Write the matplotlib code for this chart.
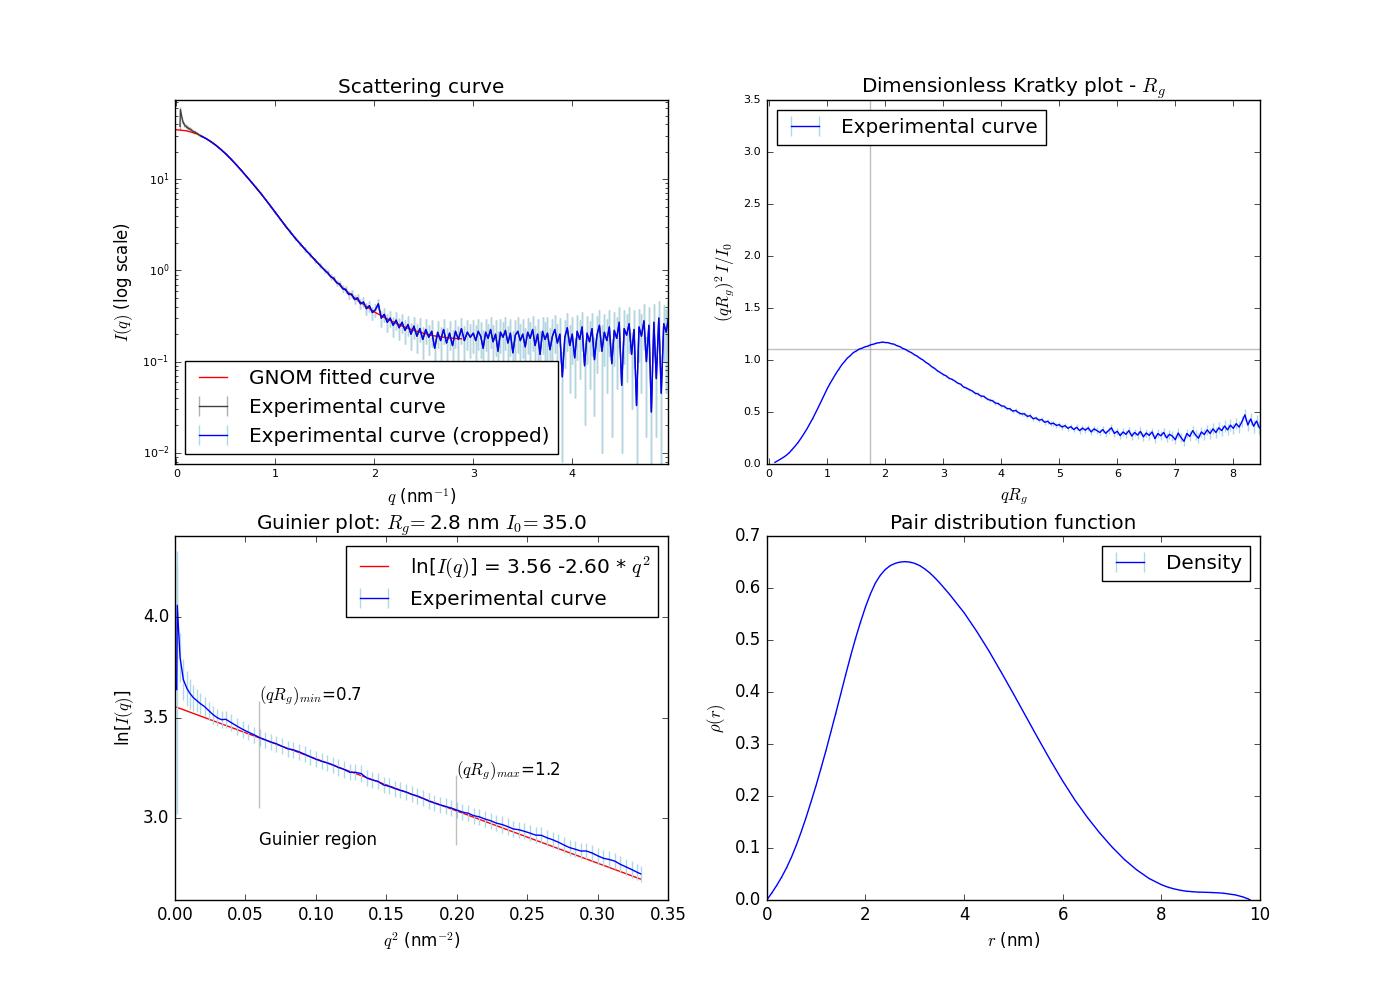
import matplotlib
matplotlib.use("Agg")
import matplotlib.pyplot as plt

plt.style.use("classic")
plt.rcParams["figure.facecolor"] = "white"
plt.rcParams["savefig.facecolor"] = "white"

# ---------------- Scattering curve (top-left) ----------------
# full experimental curve, low-q part (before the cropped range)
exp_low_q = [0.035, 0.040, 0.060, 0.077, 0.092, 0.103, 0.114, 0.124, 0.134, 0.145,
             0.155, 0.164, 0.173, 0.182, 0.190, 0.200, 0.210, 0.219, 0.228, 0.237, 0.245]
exp_low_I = [38.1, 58.0, 44.7, 40.0, 38.3, 37.3, 36.6, 36.0, 35.5, 35.0,
             34.3, 33.6, 33.1, 32.8, 32.9, 32.3, 31.8, 31.2, 30.8, 30.4, 30.0]
exp_low_err = [3.0, 4.0, 3.0, 2.5, 2.2, 2.0, 1.8, 1.7, 1.6, 1.5,
               1.4, 1.3, 1.2, 1.1, 1.0, 0.9, 0.8, 0.7, 0.65, 0.6, 0.55]

# cropped experimental curve
crop_q = [0.25, 0.30, 0.35, 0.40, 0.45, 0.50, 0.55, 0.60, 0.65, 0.70, 0.75, 0.80, 0.85,
          0.90, 0.95, 1.00, 1.05, 1.10, 1.15, 1.20, 1.25, 1.30, 1.35, 1.40, 1.45, 1.50,
          1.53, 1.56, 1.59, 1.62, 1.65, 1.68, 1.71, 1.74, 1.77, 1.80, 1.83, 1.86, 1.89,
          1.92, 1.95, 1.98, 2.01, 2.04, 2.07, 2.10, 2.13, 2.16, 2.19, 2.22, 2.25, 2.28,
          2.31, 2.34, 2.37, 2.40, 2.43, 2.46, 2.49, 2.52, 2.55, 2.58, 2.61, 2.64, 2.67,
          2.70, 2.73, 2.76, 2.79, 2.82, 2.85, 2.88, 2.91, 2.94, 2.97,
          3.000, 3.025, 3.050, 3.075, 3.100, 3.125, 3.150, 3.175, 3.200, 3.225, 3.250,
          3.275, 3.300, 3.325, 3.350, 3.375, 3.400, 3.425, 3.450, 3.475, 3.500, 3.525,
          3.550, 3.575, 3.600, 3.625, 3.650, 3.675, 3.700, 3.725, 3.750, 3.775, 3.800,
          3.825, 3.850, 3.875, 3.900, 3.925, 3.950, 3.975, 4.000, 4.025, 4.050, 4.075,
          4.100, 4.125, 4.150, 4.175, 4.200, 4.225, 4.250, 4.275, 4.300, 4.325, 4.350,
          4.375, 4.400, 4.425, 4.450, 4.475, 4.500, 4.525, 4.550, 4.575, 4.600, 4.625,
          4.650, 4.675, 4.700, 4.725, 4.750, 4.775, 4.800, 4.825, 4.850, 4.875, 4.900,
          4.925, 4.950, 4.970]
crop_I = [29.8, 27.9, 25.8, 23.5, 21.2, 18.9, 16.7, 14.6, 12.7, 11.0, 9.5, 8.2, 7.05,
          6.0, 5.1, 4.32, 3.65, 3.09, 2.64, 2.26, 1.96, 1.70, 1.49, 1.30, 1.14, 1.00,
          0.94, 0.85, 0.82, 0.73, 0.71, 0.63, 0.62, 0.545, 0.55, 0.48, 0.50, 0.43, 0.45,
          0.38, 0.41, 0.345, 0.37, 0.43, 0.30, 0.33, 0.27, 0.30, 0.25, 0.285, 0.235, 0.27,
          0.22, 0.255, 0.20, 0.245, 0.19, 0.23, 0.175, 0.225, 0.185, 0.215, 0.14, 0.21, 0.17,
          0.225, 0.16, 0.205, 0.15, 0.215, 0.175, 0.23, 0.17, 0.21, 0.185,
          0.205, 0.17, 0.215, 0.19, 0.14, 0.21, 0.18, 0.225, 0.165, 0.20, 0.13,
          0.21, 0.185, 0.22, 0.16, 0.205, 0.125, 0.195, 0.215, 0.17, 0.20, 0.145,
          0.21, 0.18, 0.225, 0.15, 0.20, 0.12, 0.215, 0.175, 0.205, 0.135, 0.19,
          0.225, 0.16, 0.20, 0.068, 0.185, 0.235, 0.15, 0.20, 0.11, 0.215, 0.175,
          0.24, 0.09, 0.205, 0.165, 0.23, 0.105, 0.195, 0.25, 0.13, 0.21, 0.17,
          0.24, 0.095, 0.22, 0.18, 0.27, 0.055, 0.23, 0.195, 0.26, 0.12, 0.225,
          0.033, 0.24, 0.19, 0.28, 0.10, 0.25, 0.028, 0.27, 0.065, 0.30, 0.045,
          0.26, 0.21, 0.29]
crop_err = [0.50, 0.45, 0.40, 0.36, 0.32, 0.29, 0.26, 0.23, 0.21, 0.19, 0.17, 0.16, 0.15,
            0.14, 0.13, 0.12, 0.115, 0.11, 0.105, 0.10, 0.095, 0.09, 0.085, 0.08, 0.075, 0.07,
            0.060, 0.058, 0.057, 0.056, 0.055, 0.055, 0.054, 0.054, 0.054, 0.054, 0.055, 0.055, 0.056,
            0.056, 0.057, 0.057, 0.058, 0.060, 0.060, 0.061, 0.061, 0.062, 0.062, 0.063, 0.063, 0.064,
            0.064, 0.065, 0.065, 0.066, 0.066, 0.067, 0.067, 0.068, 0.068, 0.069, 0.050, 0.070, 0.070,
            0.071, 0.071, 0.072, 0.072, 0.073, 0.073, 0.074, 0.074, 0.075, 0.075,
            0.080, 0.080, 0.080, 0.080, 0.080, 0.080, 0.080, 0.085, 0.085, 0.085, 0.085,
            0.085, 0.085, 0.085, 0.085, 0.090, 0.090, 0.090, 0.090, 0.090, 0.090, 0.090,
            0.090, 0.090, 0.095, 0.095, 0.095, 0.095, 0.095, 0.095, 0.100, 0.100, 0.100,
            0.100, 0.100, 0.100, 0.060, 0.100, 0.105, 0.105, 0.105, 0.070, 0.110, 0.110,
            0.110, 0.070, 0.110, 0.115, 0.115, 0.080, 0.120, 0.120, 0.120, 0.120, 0.125,
            0.125, 0.080, 0.130, 0.130, 0.130, 0.045, 0.135, 0.135, 0.135, 0.090, 0.140,
            0.030, 0.140, 0.145, 0.145, 0.085, 0.150, 0.028, 0.155, 0.050, 0.160, 0.040,
            0.160, 0.165, 0.170]

# GNOM fitted curve
gnom_q = [0.0, 0.1, 0.2, 0.3, 0.4, 0.5, 0.6, 0.7, 0.8, 0.9, 1.0, 1.1, 1.2, 1.3, 1.4,
          1.5, 1.6, 1.7, 1.8, 1.9, 2.0, 2.1, 2.2, 2.3, 2.4, 2.5, 2.6, 2.7, 2.8, 2.88]
gnom_I = [34.9, 34.0, 31.7, 27.9, 23.5, 18.9, 14.6, 11.0, 8.2, 6.0, 4.3, 3.09, 2.26, 1.70, 1.30,
          1.0, 0.776, 0.617, 0.50, 0.417, 0.351, 0.305, 0.269, 0.241, 0.220, 0.204, 0.192,
          0.185, 0.180, 0.178]

# ---------------- Dimensionless Kratky plot (top-right) ----------------
kratky_x = [0.10, 0.15, 0.20, 0.25, 0.30, 0.35, 0.40, 0.45, 0.50, 0.55, 0.60, 0.65, 0.70,
            0.75, 0.80, 0.85, 0.90, 0.95, 1.00, 1.05, 1.10, 1.15, 1.20, 1.25, 1.30, 1.35,
            1.40, 1.45, 1.50, 1.55, 1.60, 1.65, 1.70, 1.75, 1.80, 1.85, 1.90, 1.95, 2.00,
            2.05, 2.10, 2.15, 2.20, 2.25, 2.30, 2.35, 2.40, 2.45, 2.50, 2.55, 2.60, 2.65,
            2.70, 2.75, 2.80, 2.85, 2.90, 2.95,
            3.00, 3.05, 3.10, 3.15, 3.20, 3.25, 3.30, 3.35, 3.40, 3.45, 3.50, 3.55, 3.60,
            3.65, 3.70, 3.75, 3.80, 3.85, 3.90, 3.95, 4.00, 4.05, 4.10, 4.15, 4.20, 4.25,
            4.30, 4.35, 4.40, 4.45, 4.50, 4.55, 4.60, 4.65, 4.70, 4.75, 4.80, 4.85, 4.90,
            4.95, 5.00, 5.05, 5.10, 5.15, 5.20, 5.25, 5.30, 5.35, 5.40, 5.45, 5.50, 5.55,
            5.60, 5.65, 5.70, 5.75, 5.80, 5.85, 5.90, 5.95, 6.00, 6.05, 6.10, 6.15, 6.20,
            6.25, 6.30, 6.35, 6.40, 6.45, 6.50, 6.55, 6.60, 6.65, 6.70, 6.75, 6.80, 6.85,
            6.90, 6.95, 7.00, 7.05, 7.10, 7.15, 7.20, 7.25, 7.30, 7.35, 7.40, 7.45, 7.50,
            7.55, 7.60, 7.65, 7.70, 7.75, 7.80, 7.85, 7.90, 7.95, 8.00, 8.05, 8.10, 8.15,
            8.20, 8.25, 8.30, 8.35, 8.40, 8.45]
kratky_y = [0.013, 0.028, 0.045, 0.062, 0.082, 0.107, 0.138, 0.170, 0.205, 0.245, 0.288,
            0.333, 0.382, 0.433, 0.488, 0.545, 0.603, 0.662, 0.720, 0.772, 0.820, 0.866,
            0.908, 0.950, 0.983, 1.017, 1.040, 1.068, 1.084, 1.102, 1.111, 1.124, 1.131,
            1.144, 1.150, 1.160, 1.164, 1.170, 1.166, 1.164, 1.155, 1.150, 1.136, 1.127,
            1.110, 1.099, 1.082, 1.069, 1.049, 1.035, 1.014, 0.998, 0.975, 0.958, 0.934,
            0.917, 0.894, 0.877,
            0.858, 0.845, 0.822, 0.812, 0.795, 0.775, 0.765, 0.738, 0.728, 0.712, 0.700, 0.678,
            0.671, 0.650, 0.648, 0.625, 0.612, 0.605, 0.583, 0.578, 0.557, 0.552, 0.530, 0.528,
            0.505, 0.512, 0.490, 0.478, 0.480, 0.455, 0.462, 0.432, 0.440, 0.418, 0.425, 0.398,
            0.408, 0.382, 0.390, 0.368, 0.375, 0.352, 0.366, 0.340, 0.356, 0.328, 0.350, 0.318,
            0.342, 0.322, 0.345, 0.305, 0.335, 0.318, 0.300, 0.328, 0.292, 0.318, 0.345, 0.290,
            0.312, 0.270, 0.305, 0.282, 0.318, 0.265, 0.300, 0.275, 0.310, 0.258, 0.295, 0.272,
            0.305, 0.240, 0.290, 0.268, 0.300, 0.248, 0.282, 0.265, 0.230, 0.295, 0.250, 0.215,
            0.290, 0.262, 0.318, 0.275, 0.245, 0.305, 0.280, 0.325, 0.290, 0.335, 0.300, 0.345,
            0.318, 0.362, 0.325, 0.370, 0.340, 0.385, 0.352, 0.405, 0.470, 0.372, 0.430, 0.360,
            0.410, 0.345]
kratky_err = [0.001, 0.001, 0.001, 0.001, 0.001, 0.001, 0.002, 0.002, 0.002, 0.002, 0.002,
              0.002, 0.002, 0.003, 0.003, 0.003, 0.003, 0.003, 0.003, 0.003, 0.004, 0.004,
              0.004, 0.004, 0.004, 0.004, 0.004, 0.005, 0.005, 0.005, 0.005, 0.005, 0.005,
              0.005, 0.006, 0.006, 0.006, 0.006, 0.006, 0.006, 0.006, 0.007, 0.007, 0.007,
              0.007, 0.007, 0.007, 0.007, 0.008, 0.008, 0.008, 0.008, 0.008, 0.008, 0.009,
              0.009, 0.009, 0.009,
              0.010, 0.010, 0.011, 0.011, 0.011, 0.012, 0.012, 0.012, 0.013, 0.013, 0.013,
              0.014, 0.014, 0.014, 0.015, 0.015, 0.015, 0.016, 0.016, 0.016,
              0.017, 0.017, 0.018, 0.018, 0.018, 0.019, 0.019, 0.020, 0.020, 0.020, 0.021,
              0.021, 0.022, 0.022, 0.022, 0.023, 0.023, 0.024, 0.024, 0.025,
              0.025, 0.026, 0.026, 0.027, 0.027, 0.028, 0.028, 0.029, 0.029, 0.030, 0.030,
              0.031, 0.031, 0.032, 0.032, 0.033, 0.033, 0.034, 0.034, 0.035,
              0.035, 0.036, 0.036, 0.037, 0.037, 0.038, 0.038, 0.039, 0.039, 0.040, 0.040,
              0.041, 0.041, 0.042, 0.042, 0.043, 0.043, 0.044, 0.044, 0.045,
              0.045, 0.046, 0.046, 0.047, 0.047, 0.048, 0.048, 0.049, 0.049, 0.050, 0.050,
              0.051, 0.051, 0.052, 0.052, 0.053, 0.053, 0.054, 0.054, 0.055,
              0.055, 0.056, 0.056, 0.057, 0.058, 0.060, 0.060, 0.061, 0.062, 0.063]
kratky_peak_x = 1.73   # sqrt(3) guide line
kratky_peak_y = 1.10   # 3/e guide line

# ---------------- Guinier plot (bottom-left) ----------------
guinier_q2 = [0.0012, 0.0016, 0.0036, 0.0059, 0.0085, 0.0107, 0.013, 0.0155, 0.018, 0.021,
              0.024, 0.027, 0.030, 0.033, 0.036, 0.040, 0.044, 0.048, 0.052, 0.056, 0.060,
              0.064, 0.068, 0.072, 0.076, 0.080, 0.084, 0.088, 0.092, 0.096, 0.100, 0.104,
              0.108, 0.112, 0.116, 0.120, 0.124, 0.128, 0.132, 0.136, 0.140, 0.144, 0.148,
              0.152, 0.156, 0.160, 0.164, 0.168, 0.172, 0.176, 0.180, 0.184, 0.188, 0.192,
              0.196, 0.200, 0.204, 0.208, 0.212, 0.216, 0.220, 0.224, 0.228, 0.232, 0.236,
              0.240, 0.244, 0.248, 0.252, 0.256, 0.260, 0.264, 0.268, 0.272, 0.276, 0.280,
              0.284, 0.288, 0.292, 0.296, 0.300, 0.304, 0.308, 0.312, 0.316, 0.320, 0.324,
              0.328, 0.3305]
guinier_lnI = [3.64, 4.06, 3.80, 3.69, 3.645, 3.62, 3.60, 3.585, 3.57, 3.555,
               3.535, 3.515, 3.50, 3.49, 3.492, 3.475, 3.458, 3.442, 3.428, 3.415, 3.401,
               3.390, 3.379, 3.370, 3.357, 3.345, 3.340, 3.330, 3.318, 3.305, 3.293, 3.283,
               3.275, 3.265, 3.252, 3.242, 3.228, 3.228, 3.222, 3.200, 3.190, 3.183, 3.165,
               3.158, 3.147, 3.138, 3.130, 3.118, 3.110, 3.098, 3.085, 3.075, 3.066, 3.058,
               3.050, 3.040, 3.030, 3.024, 3.012, 3.006, 2.995, 2.987, 2.975, 2.968, 2.958,
               2.946, 2.942, 2.934, 2.925, 2.915, 2.914, 2.902, 2.892, 2.880, 2.866, 2.853,
               2.845, 2.836, 2.836, 2.826, 2.812, 2.800, 2.794, 2.786, 2.770, 2.757, 2.744,
               2.730, 2.722]
guinier_err = [0.62, 0.27, 0.12, 0.10, 0.085, 0.075, 0.065, 0.058, 0.052, 0.048,
               0.045, 0.044, 0.043, 0.043, 0.042, 0.042, 0.042, 0.041, 0.041, 0.041, 0.041,
               0.040, 0.040, 0.040, 0.040, 0.040, 0.040, 0.040, 0.040, 0.040, 0.040, 0.040,
               0.040, 0.040, 0.040, 0.040, 0.040, 0.040, 0.040, 0.040, 0.040, 0.040, 0.040,
               0.040, 0.040, 0.040, 0.040, 0.040, 0.040, 0.040, 0.040, 0.040, 0.040, 0.040,
               0.040, 0.040, 0.040, 0.040, 0.040, 0.040, 0.040, 0.040, 0.040, 0.040, 0.040,
               0.040, 0.040, 0.040, 0.040, 0.040, 0.040, 0.040, 0.040, 0.040, 0.040, 0.040,
               0.040, 0.040, 0.040, 0.040, 0.040, 0.040, 0.040, 0.040, 0.040, 0.040, 0.040,
               0.040, 0.040]
guinier_fit_q2 = [0.0012, 0.3305]
guinier_fit_lnI = [3.552, 2.696]
guinier_intercept = 3.56
guinier_slope = -2.60
rg_nm = 2.8
i0 = 35.0
q2_min, q2_max = 0.0595, 0.1995
qrg_min, qrg_max = 0.7, 1.2
min_line = [3.05, 3.585]
max_line = [2.866, 3.214]

# ---------------- Pair distribution function (bottom-right) ----------------
pr_r = [0.0, 0.1, 0.2, 0.3, 0.4, 0.5, 0.6, 0.7, 0.8, 0.9, 1.0, 1.1, 1.2, 1.3, 1.4, 1.5,
        1.6, 1.7, 1.8, 1.9, 2.0, 2.1, 2.2, 2.3, 2.4, 2.5, 2.6, 2.7, 2.8, 2.9, 3.0,
        3.1, 3.2, 3.3, 3.4, 3.5, 3.6, 3.7, 3.8, 3.9, 4.0, 4.25, 4.5, 4.75, 5.0, 5.25,
        5.5, 5.75, 6.0, 6.25, 6.5, 6.75, 7.0, 7.25, 7.5, 7.75, 8.0, 8.125, 8.25, 8.375,
        8.5, 8.625, 8.75, 9.0, 9.25, 9.5, 9.65, 9.75, 9.8]
pr_p = [0.0, 0.0135, 0.028, 0.044, 0.062, 0.0825, 0.106, 0.132, 0.160, 0.190, 0.221,
        0.254, 0.288, 0.324, 0.360, 0.397, 0.434, 0.470, 0.504, 0.535, 0.564, 0.589,
        0.610, 0.625, 0.636, 0.6435, 0.648, 0.6505, 0.6513, 0.6505, 0.648,
        0.6437, 0.6375, 0.630, 0.621, 0.611, 0.600, 0.589, 0.577, 0.565, 0.553,
        0.518, 0.480, 0.439, 0.397, 0.354, 0.311, 0.269, 0.229, 0.192, 0.159, 0.129,
        0.102, 0.078, 0.058, 0.0415, 0.0295, 0.025, 0.0215, 0.019, 0.017, 0.016, 0.0152,
        0.0145, 0.0132, 0.0098, 0.006, 0.0025, 0.0]
pr_err = [0.0, 0.001, 0.001, 0.001, 0.001, 0.001, 0.001, 0.001, 0.001, 0.001, 0.001,
          0.001, 0.001, 0.001, 0.001, 0.001, 0.001, 0.001, 0.001, 0.001, 0.001, 0.001,
          0.001, 0.001, 0.001, 0.001, 0.001, 0.001, 0.001, 0.001, 0.001,
          0.001, 0.001, 0.001, 0.001, 0.001, 0.001, 0.001, 0.001, 0.001, 0.001,
          0.001, 0.001, 0.001, 0.001, 0.001, 0.001, 0.001, 0.001, 0.001, 0.001, 0.001,
          0.001, 0.001, 0.001, 0.001, 0.001, 0.001, 0.001, 0.001, 0.001, 0.001, 0.001,
          0.001, 0.001, 0.001, 0.001, 0.001, 0.0]

# ======================================================================
fig = plt.figure(figsize=(14, 10), dpi=100)

# --- Scattering curve
ax1 = fig.add_subplot(2, 2, 1)
ax1.errorbar(exp_low_q + crop_q, exp_low_I + crop_I, yerr=exp_low_err + crop_err,
             color="#404040", ecolor="#b0b0b0", capsize=0, label="Experimental curve")
ax1.errorbar(crop_q, crop_I, yerr=crop_err, color="blue", ecolor="lightblue",
             capsize=0, label="Experimental curve (cropped)")
ax1.plot(gnom_q, gnom_I, color="red", label="GNOM fitted curve")
ax1.set_yscale("log", nonpositive="clip")
ax1.set_xlim(-0.015, 4.97)
ax1.set_ylim(0.0076, 74)
ax1.set_xticks([0, 1, 2, 3, 4])
ax1.set_title("Scattering curve")
ax1.set_xlabel("$q$ (nm$^{-1}$)")
ax1.set_ylabel("$I(q)$ (log scale)")
ax1.tick_params(labelsize=8)
ax1.legend(loc="lower left")

# --- Kratky
ax2 = fig.add_subplot(2, 2, 2)
ax2.errorbar(kratky_x, kratky_y, yerr=kratky_err, color="blue", ecolor="lightblue",
             capsize=0, label="Experimental curve")
ax2.axvline(kratky_peak_x, color="grey", alpha=0.5)
ax2.axhline(kratky_peak_y, color="grey", alpha=0.5)
ax2.set_xlim(-0.04, 8.46)
ax2.set_ylim(0, 3.5)
ax2.set_xticks(range(0, 9))
ax2.set_yticks([0.0, 0.5, 1.0, 1.5, 2.0, 2.5, 3.0, 3.5])
ax2.set_title("Dimensionless Kratky plot - $R_{g}$")
ax2.set_xlabel("$qR_{g}$")
ax2.set_ylabel(r"$(qR_{g})^2\,I/I_{0}$")
ax2.tick_params(labelsize=8)
ax2.legend(loc="upper left")

# --- Guinier
ax3 = fig.add_subplot(2, 2, 3)
ax3.plot(guinier_fit_q2, guinier_fit_lnI, color="red",
         label="ln[$I(q)$] = %.2f %.2f * $q^2$" % (guinier_intercept, guinier_slope))
ax3.errorbar(guinier_q2, guinier_lnI, yerr=guinier_err, color="blue", ecolor="lightblue",
             capsize=0, label="Experimental curve")
ax3.vlines(q2_min, min_line[0], min_line[1], color="grey", alpha=0.5)
ax3.vlines(q2_max, max_line[0], max_line[1], color="grey", alpha=0.5)
ax3.annotate("$(qR_{g})_{min}$=%.1f" % qrg_min, (q2_min, min_line[1]))
ax3.annotate("$(qR_{g})_{max}$=%.1f" % qrg_max, (q2_max, max_line[1]))
ax3.annotate("Guinier region", (q2_min, max_line[0]))
ax3.set_xlim(0, 0.35)
ax3.set_ylim(2.592, 4.403)
ax3.set_yticks([3.0, 3.5, 4.0])
ax3.set_title(r"Guinier plot: $R_{g}\!=$%.1f nm $I_{0}\!=$%.1f" % (rg_nm, i0))
ax3.set_xlabel("$q^2$ (nm$^{-2}$)")
ax3.set_ylabel("ln[$I(q)$]")
ax3.legend(loc="upper right")

# --- p(r)
ax4 = fig.add_subplot(2, 2, 4)
ax4.errorbar(pr_r, pr_p, yerr=pr_err, color="blue", ecolor="lightblue", capsize=0,
             label="Density")
ax4.set_xlim(0, 10)
ax4.set_ylim(0, 0.7)
ax4.set_title("Pair distribution function")
ax4.set_xlabel("$r$ (nm)")
ax4.set_ylabel(r"$\rho(r)$")
ax4.legend(loc="upper right")

fig.savefig("out.png", dpi=100)
